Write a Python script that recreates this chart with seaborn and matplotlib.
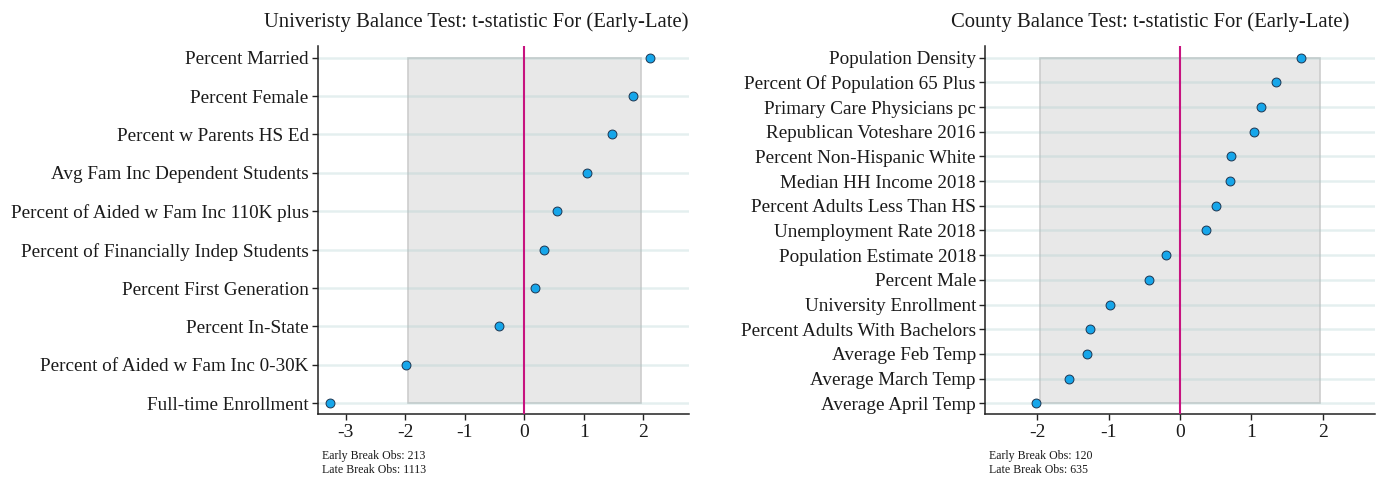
import matplotlib
matplotlib.use("Agg")
import matplotlib.pyplot as plt
import seaborn as sns
import pandas as pd
from matplotlib.patches import Rectangle

# University-level balance test
uni_labels = [
    "Percent Married",
    "Percent Female",
    "Percent w Parents HS Ed",
    "Avg Fam Inc Dependent Students",
    "Percent of Aided w Fam Inc 110K plus",
    "Percent of Financially Indep Students",
    "Percent First Generation",
    "Percent In-State",
    "Percent of Aided w Fam Inc 0-30K",
    "Full-time Enrollment",
]
uni_tstat = [2.11, 1.83, 1.47, 1.05, 0.56, 0.33, 0.19, -0.43, -1.99, -3.27]

# County-level balance test
county_labels = [
    "Population Density",
    "Percent Of Population 65 Plus",
    "Primary Care Physicians pc",
    "Republican Voteshare 2016",
    "Percent Non-Hispanic White",
    "Median HH Income 2018",
    "Percent Adults Less Than HS",
    "Unemployment Rate 2018",
    "Population Estimate 2018",
    "Percent Male",
    "University Enrollment",
    "Percent Adults With Bachelors",
    "Average Feb Temp",
    "Average March Temp",
    "Average April Temp",
]
county_tstat = [1.69, 1.35, 1.14, 1.03, 0.71, 0.70, 0.50, 0.36,
                -0.19, -0.43, -0.98, -1.26, -1.30, -1.55, -2.02]

uni_ticks = [-3, -2, -1, 0, 1, 2]
county_ticks = [-2, -1, 0, 1, 2]

uni_title = "Univeristy Balance Test: t-statistic For (Early-Late)"
county_title = "County Balance Test: t-statistic For (Early-Late)"
uni_note = "Early Break Obs: 213\nLate Break Obs: 1113"
county_note = "Early Break Obs: 120\nLate Break Obs: 635"

CRIT = 1.96

sns.set_theme(style="white")
plt.rcParams["font.family"] = ["Liberation Serif", "DejaVu Serif"]

W, H = 1378, 480
fig = plt.figure(figsize=(W / 100, H / 100), dpi=100)


def px_axes(x0, x1, y0, y1):
    return fig.add_axes([x0 / W, 1 - y1 / H, (x1 - x0) / W, (y1 - y0) / H])


def panel(ax, labels, values, ticks, xlim, ymargin, title, title_x, note):
    df = pd.DataFrame({"label": labels, "t": values})
    n = len(labels)
    # critical-value band
    ax.add_patch(Rectangle((-CRIT, 0), 2 * CRIT, n - 1, facecolor="#e8e8e8",
                           edgecolor="#cdcdcd", linewidth=1.2, zorder=1))
    # row guide lines
    for i in range(n):
        ax.axhline(i, color="#a8cccc", alpha=0.3, linewidth=1.8, zorder=2)
    ax.axvline(0, color="#c7137f", linewidth=1.5, zorder=3)
    sns.stripplot(data=df, x="t", y="label", orient="h", jitter=False,
                  color="#16a6ea", edgecolor="#1d3550", linewidth=0.7,
                  size=6.4, ax=ax, zorder=4)
    ax.set_xlim(*xlim)
    ax.set_ylim(n - 1 + ymargin[1], -ymargin[0])
    ax.set_xticks(ticks)
    ax.set_xticklabels([str(t) for t in ticks])
    ax.set_xlabel("")
    ax.set_ylabel("")
    for s in ["top", "right"]:
        ax.spines[s].set_visible(False)
    for s in ["left", "bottom"]:
        ax.spines[s].set_color("#222222")
        ax.spines[s].set_linewidth(1.1)
    ax.tick_params(axis="y", length=4.5, width=1.0, color="#222222", pad=2,
                   labelsize=13.8, labelcolor="#1a1a1a", left=True)
    ax.tick_params(axis="x", length=4.5, width=1.0, color="#222222", pad=3,
                   labelsize=14, labelcolor="#1a1a1a", bottom=True)
    ax.grid(False)
    ax.set_facecolor("white")
    fig.text(title_x / W, 1 - 22 / H, title, ha="right", va="center",
             fontsize=14.9, color="#1a1a1a")
    bb = ax.get_position()
    fig.text(bb.x0 + 4 / W, 1 - 450 / H, note, ha="left", va="top",
             fontsize=8.6, color="#1a1a1a", linespacing=1.2)


ax1 = px_axes(317.7, 689, 46, 413.7)
panel(ax1, uni_labels, uni_tstat, uni_ticks, (-3.47, 2.77),
      (11.7 / 38.4, 10.4 / 38.4), uni_title, 688, uni_note)

ax2 = px_axes(985, 1375, 46, 413.7)
panel(ax2, county_labels, county_tstat, county_ticks, (-2.73, 2.73),
      (11.7 / 24.69, 10.4 / 24.69), county_title, 1349, county_note)

fig.savefig("out.png", dpi=100, facecolor="white")
